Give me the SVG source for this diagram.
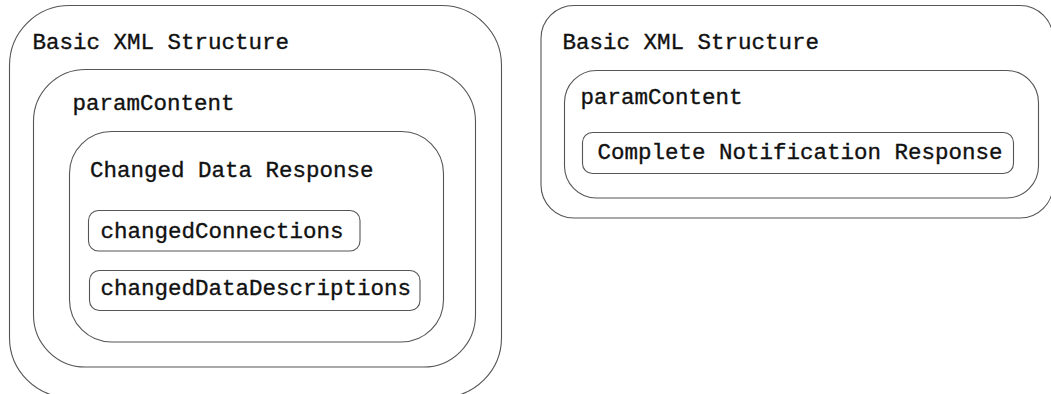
<svg xmlns="http://www.w3.org/2000/svg" width="1051" height="394" viewBox="0 0 1051 394">
  <style>
    .box { fill: #ffffff; stroke: #555555; stroke-width: 1.1; }
    .lbl { font-family: "Liberation Mono", "DejaVu Sans Mono", monospace; font-size: 22.5px; fill: #111111; stroke: #111111; stroke-width: 0.35; }
  </style>
  <rect width="1051" height="394" fill="#ffffff"/>

  <!-- Left structure: Changed Data Response -->
  <g id="basic-xml-left">
    <rect class="box" x="9.5" y="5.5" width="492" height="392" rx="60" ry="60"/>
    <text class="lbl" x="32.5" y="48.5">Basic XML Structure</text>
  </g>
  <g id="param-content-left">
    <rect class="box" x="33.5" y="69.5" width="442" height="297.5" rx="52" ry="52"/>
    <text class="lbl" x="72.5" y="110">paramContent</text>
  </g>
  <g id="changed-data-response">
    <rect class="box" x="69.5" y="131.5" width="374" height="210.5" rx="42" ry="42"/>
    <text class="lbl" x="90" y="177">Changed Data Response</text>
  </g>
  <g id="changed-connections">
    <rect class="box" x="88.5" y="210.5" width="271.5" height="40.5" rx="10" ry="10"/>
    <text class="lbl" x="100.5" y="237.5">changedConnections</text>
  </g>
  <g id="changed-data-descriptions">
    <rect class="box" x="89.5" y="270.5" width="330.5" height="40" rx="10" ry="10"/>
    <text class="lbl" x="100.5" y="295">changedDataDescriptions</text>
  </g>

  <!-- Right structure: Complete Notification Response -->
  <g id="basic-xml-right">
    <rect class="box" x="541" y="5.5" width="512" height="212.5" rx="33" ry="33"/>
    <text class="lbl" x="562.5" y="48.5">Basic XML Structure</text>
  </g>
  <g id="param-content-right">
    <rect class="box" x="564.5" y="70.5" width="474" height="127.5" rx="32" ry="32"/>
    <text class="lbl" x="580.5" y="103.5">paramContent</text>
  </g>
  <g id="complete-notification-response">
    <rect class="box" x="582.5" y="132.5" width="431" height="41" rx="10" ry="10"/>
    <text class="lbl" x="597.5" y="158.5">Complete Notification Response</text>
  </g>

  <!-- nesting only, no connectors -->
  <g id="connectors"/>
</svg>
